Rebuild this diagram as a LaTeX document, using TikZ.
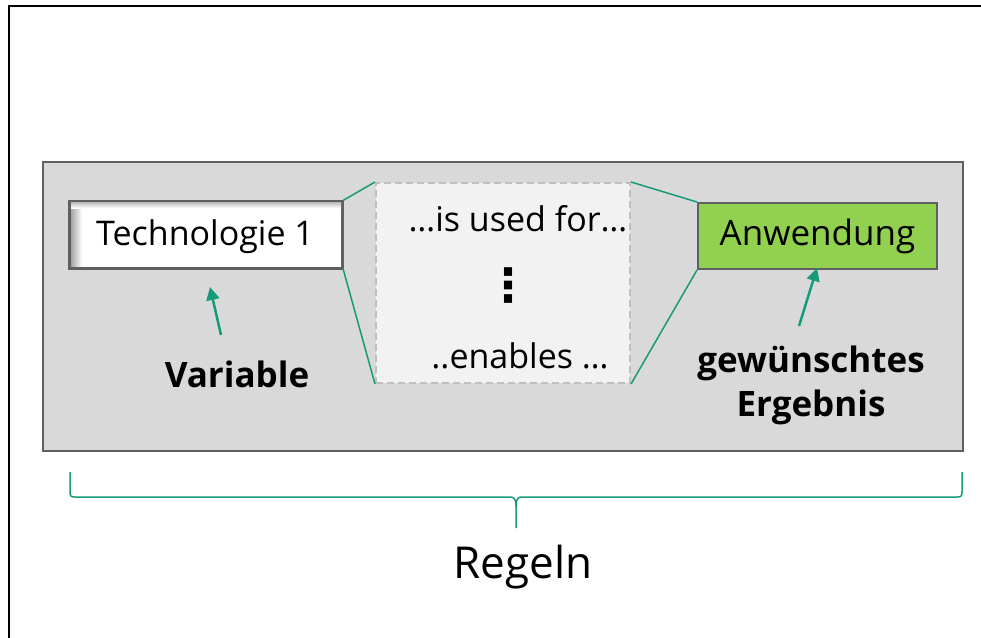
\documentclass[tikz,border=0pt]{standalone}
\usepackage{fontspec}
\setmainfont{Open Sans}
\newfontfamily\symfont{DejaVu Sans}
\usetikzlibrary{arrows.meta}
\definecolor{teal1}{RGB}{22,155,122}
\definecolor{panel}{RGB}{217,217,217}
\definecolor{edge}{RGB}{96,96,96}
\definecolor{lgreen}{RGB}{146,208,80}
\definecolor{dashfill}{RGB}{242,242,242}
\definecolor{dashedge}{RGB}{191,191,191}
\tikzset{
  box/.style={draw=edge, line width=2pt, rectangle, inner sep=0pt, align=center},
  conn/.style={draw=teal1, line width=1.5pt},
  pointer/.style={draw=teal1, line width=2.5pt, -{Triangle[length=13pt,width=13pt]}},
  lbl/.style={inner sep=0pt, align=center, text=black},
}
\begin{document}
\begin{tikzpicture}[x=1pt,y=-1pt]
\useasboundingbox (0,0) rectangle (981,637);
% outer frame
\draw[line width=2pt, black] (9,640) -- (9,6) -- (985,6);
% panel
\node[box, fill=panel, minimum width=920pt, minimum height=289pt] (panel) at (503,306.5) {};
% technology box with inner shadow
\node[box, fill=white, minimum width=272pt, minimum height=66pt] (tech) at (206,234.5) {};
\shade[left color=gray!70, right color=white] (71,202.5) rectangle (82,266.5);
\shade[top color=gray!50, bottom color=white] (71,202.5) rectangle (341,208);
\draw[edge, line width=2pt] (tech.south west) rectangle (tech.north east);
\node[lbl, font=\fontsize{34}{40}\selectfont] (techtxt) at (205,237) {Technologie 1};
% dashed middle box
\node[rectangle, draw=dashedge, dash pattern=on 7pt off 4pt, line width=2pt, fill=dashfill, minimum width=254pt, minimum height=200pt, inner sep=0pt] (mid) at (503,283) {};
\node[lbl, font=\fontsize{34}{40}\selectfont] (used) at (518,219) {…is used for…};
\node[lbl, font=\symfont\bfseries\fontsize{46}{46}\selectfont] (dots) at (508,286) {⋮};
\node[lbl, font=\fontsize{34}{40}\selectfont] (enab) at (520,356) {..enables …};
% application box
\node[box, fill=lgreen, minimum width=239pt, minimum height=66pt, font=\fontsize{35}{40}\selectfont] (app) at (817.5,236) {Anwendung};
% connectors
\draw[conn] (tech.north east) -- (mid.north west);
\draw[conn] (tech.south east) -- (mid.south west);
\draw[conn] (mid.north east) -- (app.north west);
\draw[conn] (mid.south east) -- (app.south west);
% labels and pointers
\node[lbl, font=\bfseries\fontsize{35}{40}\selectfont] (var) at (237,374) {Variable};
\coordinate (varS) at (221,335);
\coordinate (varT) at (210,287);
\draw[pointer] (varS) -- (varT);
\node[lbl, font=\bfseries\fontsize{35}{44}\selectfont] (res) at (811,385) {gewünschtes\\Ergebnis};
\coordinate (resS) at (799,326);
\coordinate (resT) at (817,268);
\draw[pointer] (resS) -- (resT);
% brace
\coordinate (bL) at (70,472);
\coordinate (bR) at (962,472);
\coordinate (bTip) at (516,528);
\draw[teal1, line width=1.5pt, line join=round]
  (bL) -- (70,492) .. controls (70,496) and (71,497) .. (75,497) -- (510,497)
  .. controls (514,497) and (516,499) .. (516,506) -- (bTip);
\draw[teal1, line width=1.5pt, line join=round]
  (bR) -- (962,492) .. controls (962,496) and (961,497) .. (957,497) -- (522,497)
  .. controls (518,497) and (516,499) .. (516,506);
\node[lbl, font=\fontsize{44}{50}\selectfont] (regeln) at (523,567) {Regeln};
\end{tikzpicture}
\end{document}
